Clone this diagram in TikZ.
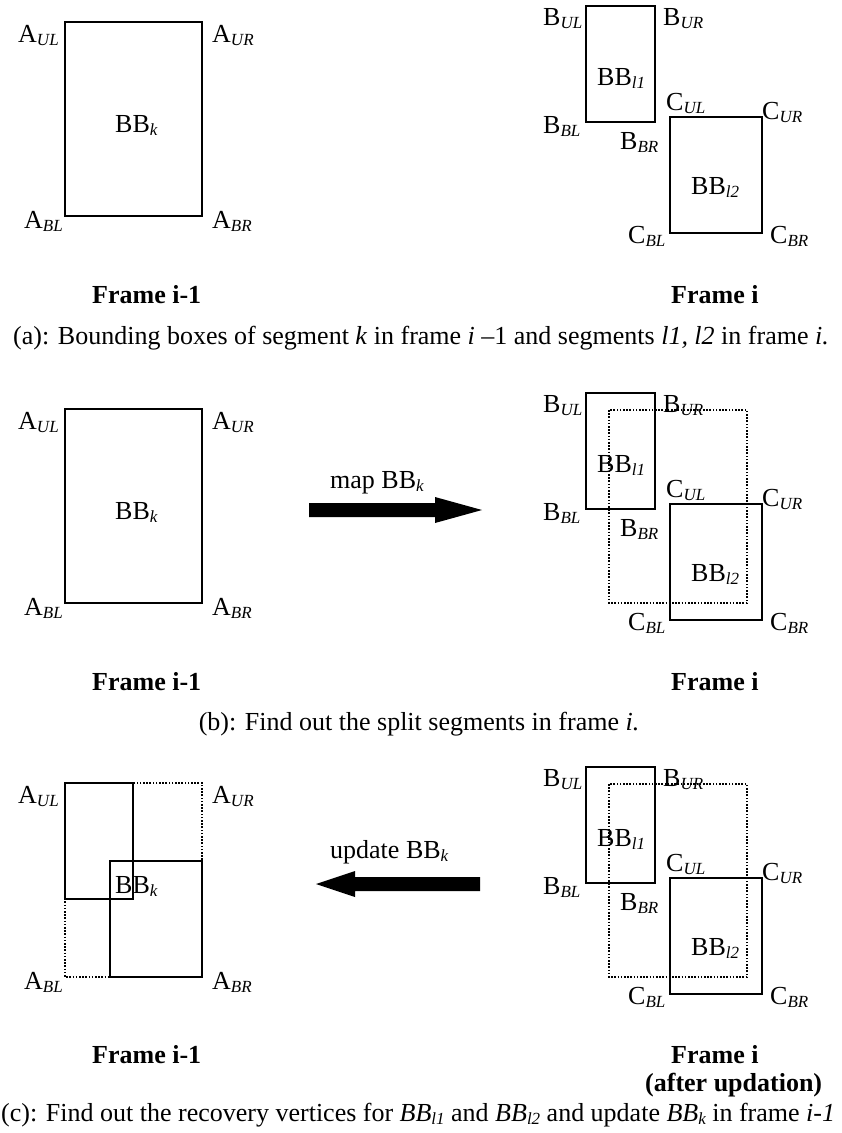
\documentclass[tikz,border=0pt]{standalone}
\usepackage{fontspec}
\setmainfont{Liberation Serif}
\newcommand\lsub[1]{\raisebox{-3pt}{\fontsize{17}{17}\selectfont\itshape #1}}
\begin{document}
\begin{tikzpicture}[x=1pt,y=-1pt,
  lbl/.style={anchor=base west, inner sep=0pt, font=\fontsize{26}{30}\selectfont},
  captxt/.style={anchor=base, inner sep=0pt, font=\fontsize{26}{30}\selectfont},
  frm/.style={anchor=base west, inner sep=0pt, font=\fontsize{26}{30}\selectfont\bfseries},
  bbox/.style={draw=black, line width=2pt},
  dotbox/.style={draw=black, line width=2pt, dash pattern=on 1.6pt off 1.6pt},
  bigarrow/.style={fill=black},
]
\useasboundingbox (0,0) rectangle (842,1133);

% ---------- macros for repeated labels ----------
\newcommand\Alabels[1]{%
  \node[lbl] (#1AUL) at (18,42) {A\lsub{UL}};
  \node[lbl] (#1AUR) at (212,42) {A\lsub{UR}};
  \node[lbl] (#1BBk) at (115,132) {BB\lsub{k}};
  \node[lbl] (#1ABL) at (24,228) {A\lsub{BL}};
  \node[lbl] (#1ABR) at (212,228) {A\lsub{BR}};
}
\newcommand\BClabels[1]{%
  \node[lbl] (#1BUL) at (543,25) {B\lsub{UL}};
  \node[lbl] (#1BUR) at (663,25) {B\lsub{UR}};
  \node[lbl] (#1BBl) at (597,85) {BB\lsub{l1}};
  \node[lbl] (#1CUL) at (666,110) {C\lsub{UL}};
  \node[lbl] (#1CUR) at (762,119) {C\lsub{UR}};
  \node[lbl] (#1BBL) at (543,133) {B\lsub{BL}};
  \node[lbl] (#1BBR) at (620,149) {B\lsub{BR}};
  \node[lbl] (#1BBm) at (691,194) {BB\lsub{l2}};
  \node[lbl] (#1CBL) at (628,243) {C\lsub{BL}};
  \node[lbl] (#1CBR) at (770,243) {C\lsub{BR}};
}

% ================= (a) =================
\begin{scope}
  \draw[bbox] (65,22) rectangle (202,216);
  \Alabels{a}
  \draw[bbox] (586,6) rectangle (655,122);
  \draw[bbox] (670,117) rectangle (762,233);
  \BClabels{ar}
  \node[frm] (aF1) at (92,303) {Frame i-1};
  \node[frm] (aF2) at (671,303) {Frame i};
  \node[captxt] (acap) at (421,344) {(a): Bounding boxes of segment \textit{k} in frame \textit{i} –1 and segments \textit{l1, l2} in frame \textit{i.}};
\end{scope}

% ================= (b) =================
\begin{scope}[yshift=-387pt]
  \draw[bbox] (65,22) rectangle (202,216);
  \Alabels{b}
  \draw[bbox] (586,6) rectangle (655,122);
  \draw[bbox] (670,117) rectangle (762,233);
  \draw[dotbox] (609,23) rectangle (747,216);
  \BClabels{br}
  \node[lbl] (bmap) at (330,101) {map BB\lsub{k}};
  \fill[bigarrow] (309,116) -- (435,116) -- (435,110) -- (482,123) -- (435,136) -- (435,130) -- (309,130) -- cycle;
  \node[frm] (bF1) at (92,303) {Frame i-1};
  \node[frm] (bF2) at (671,303) {Frame i};
  \node[captxt] (bcap) at (419,343) {(b): Find out the split segments in frame \textit{i.}};
\end{scope}

% ================= (c) =================
\begin{scope}[yshift=-761pt]
  \draw[dotbox] (65,22) rectangle (202,216);
  \draw[bbox] (65,22) rectangle (133,138);
  \draw[bbox] (110,100) rectangle (202,216);
  \Alabels{c}
  \draw[bbox] (586,6) rectangle (655,122);
  \draw[bbox] (670,117) rectangle (762,233);
  \draw[dotbox] (609,23) rectangle (747,216);
  \BClabels{cr}
  \node[lbl] (cupd) at (330,97) {update BB\lsub{k}};
  \fill[bigarrow] (480,116) -- (355,116) -- (355,110) -- (316,123) -- (355,136) -- (355,130) -- (480,130) -- cycle;
  \node[frm] (cF1) at (92,302) {Frame i-1};
  \node[frm] (cF2) at (671,302) {Frame i};
  \node[frm] (cF3) at (645,330) {(after updation)};
  \node[lbl] (ccap) at (1,360) {(c): Find out the recovery vertices for \textit{BB}\lsub{l1} and \textit{BB}\lsub{l2} and update \textit{BB}\lsub{k} in frame \textit{i-1}};
\end{scope}
\end{tikzpicture}
\end{document}
